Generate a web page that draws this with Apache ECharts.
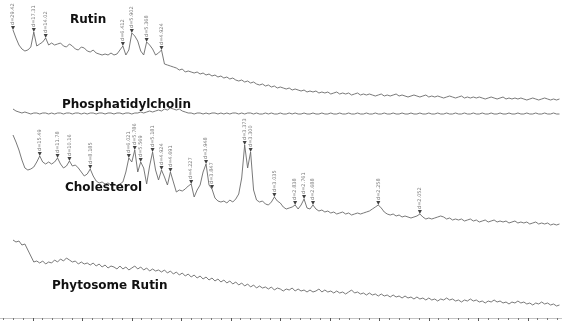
<!DOCTYPE html>
<html>
<head>
<meta charset="utf-8">
<script src="https://cdn.jsdelivr.net/npm/echarts@6/dist/echarts.min.js"></script>
<style>
html,body{margin:0;padding:0;background:#fff;}
#chart{width:562px;height:322px;}
</style>
</head>
<body>
<div id="chart"></div>
<script>
// 2θ scan steps (degrees), step 0.3°
const twoTheta = [];
for (let i = 0; i < 185; i++) twoTheta.push(+(3 + 0.3 * i).toFixed(1));

// Intensity traces (offset, plotted downward from top: larger = lower on page)
const rutin = [
  30,38,45,49,51,50,47,32,46,44,
  42,38,45,43,45,44,43,46,47,44,
  46,49,50,47,48,51,52,50,53,54,
  55,54,55,53,55,54,50,46,55,50,
  33,36,41,51,55,42,45,49,55,53,
  50,64,65,66,67,68,70,69,72,71,
  72,73,72,74,73,75,74,76,75,77,
  76,78,77,79,78,80,81,80,82,81,
  83,82,84,85,84,86,85,87,86,88,
  87,88,89,88,90,89,90,91,90,92,
  91,92,91,93,92,93,92,94,93,92,
  94,93,94,93,95,94,93,95,94,95,
  94,95,96,95,94,96,95,96,95,94,
  96,95,96,97,96,95,96,97,96,95,
  97,96,97,96,97,98,97,96,97,98,
  97,96,98,97,98,97,98,97,98,99,
  98,97,98,99,98,97,99,98,99,98,
  99,98,99,100,99,98,99,100,99,98,
  99,100,99,100,99
];
const phosphatidylcholin = [
  109,111,112,113,112,113,114,113,113,114,
  113,113,114,113,114,113,113,114,113,113,
  114,113,113,114,113,114,113,113,114,113,
  113,114,113,113,114,113,113,114,113,113,
  114,113,113,112,113,112,111,112,111,110,
  111,109,110,108,109,110,109,111,112,113,
  113,114,113,113,114,113,114,113,113,114,
  113,114,113,114,113,113,114,113,114,113,
  113,114,113,114,114,113,114,113,114,114,
  113,114,114,113,114,113,114,114,113,114,
  114,113,114,114,113,114,114,113,114,114,
  113,114,114,113,114,114,113,114,114,113,
  114,114,113,114,114,113,114,114,113,114,
  114,113,114,114,113,114,114,113,114,114,
  113,114,114,113,114,114,113,114,114,113,
  114,114,113,114,114,113,114,114,113,114,
  114,113,114,114,113,114,114,113,114,114,
  113,114,114,113,114,114,113,114,114,113,
  114,114,113,114,114
];
const cholesterol = [
  135,142,150,160,168,170,169,167,162,156,
  162,164,162,164,162,158,164,168,166,161,
  166,165,168,172,176,174,169,176,181,183,
  182,184,183,185,184,186,184,182,172,158,
  162,150,172,162,168,184,166,152,170,180,
  170,177,185,172,182,192,190,191,189,186,
  184,197,190,185,172,164,185,189,198,201,
  202,201,203,200,202,199,194,178,145,168,
  152,190,200,202,201,204,205,202,197,201,
  203,207,209,208,207,205,209,205,199,208,
  209,205,209,211,210,212,211,213,212,214,
  213,212,214,213,215,214,213,214,213,212,
  211,209,207,205,208,212,214,215,214,216,
  215,217,216,217,218,217,216,214,217,219,
  218,219,218,217,216,217,219,218,220,219,
  220,219,221,220,219,221,220,222,221,220,
  222,221,220,222,221,222,221,223,222,221,
  223,222,223,222,224,223,222,224,223,224,
  223,225,224,225,224
];
const phytosomeRutin = [
  240,242,241,245,244,250,256,262,261,263,
  261,264,262,263,260,262,259,261,258,260,
  262,261,264,262,264,263,265,263,266,264,
  267,265,268,266,267,269,266,269,267,270,
  268,266,269,267,270,268,271,269,271,270,
  272,270,273,271,274,272,275,273,276,274,
  277,275,278,276,279,277,280,278,281,279,
  282,280,283,281,284,282,285,283,286,284,
  287,285,288,286,288,287,289,287,290,288,
  289,291,289,290,288,291,289,291,290,292,
  290,292,291,289,292,290,292,291,293,291,
  293,292,294,292,290,293,292,294,293,295,
  293,295,294,296,294,296,295,297,295,297,
  296,298,296,298,297,299,297,299,298,300,
  298,300,299,301,299,300,298,300,299,301,
  300,302,300,301,299,301,300,302,301,303,
  301,302,300,302,301,303,302,304,302,303,
  301,303,302,304,303,305,303,304,302,304,
  303,305,304,306,305
];

// Peak markers: index into the scan, with d-spacing labels
const rutinPeaks = [0, 7, 11, 37, 40, 45, 50];
const rutinPeakLabels = ['d=29.42','d=17.31','d=14.02','d=6.412','d=5.902','d=5.368','d=4.924'];
const cholPeaks = [9, 15, 19, 26, 39, 41, 43, 47, 50, 53, 60, 65, 67, 78, 80, 88, 95, 98, 101, 123, 137];
const cholPeakLabels = ['d=15.49','d=11.78','d=10.16','d=8.185','d=6.021','d=5.786','d=5.569','d=5.181','d=4.924','d=4.691','d=4.227','d=3.948','d=3.847','d=3.373','d=3.300','d=3.035','d=2.838','d=2.761','d=2.688','d=2.258','d=2.052'];

const traceNames = ['Rutin', 'Phosphatidylcholin', 'Cholesterol', 'Phytosome Rutin'];

const chart = echarts.init(document.getElementById('chart'), null, {renderer: 'canvas'});

function lineSeries(name, ys) {
  return {
    name: name, type: 'line', symbol: 'none', animation: false,
    lineStyle: {color: '#6a6a6a', width: 0.9},
    data: ys.map((v, i) => [twoTheta[i], v]),
    z: 2
  };
}
function peakSeries(ys, idx, labels) {
  return {
    type: 'scatter', animation: false, z: 5,
    symbol: 'triangle', symbolRotate: 180, symbolSize: [4, 4], symbolOffset: [0, -2],
    itemStyle: {color: '#111'},
    label: {
      show: true, position: 'top', distance: 1, rotate: 90,
      align: 'left', verticalAlign: 'middle',
      fontSize: 5, color: '#555', fontFamily: 'DejaVu Sans',
      formatter: p => p.data.name
    },
    data: idx.map((p, k) => ({value: [twoTheta[p], ys[p]], name: labels[k]}))
  };
}

const titleStyle = {fontFamily: 'DejaVu Sans', fontWeight: 'bold', fontSize: 12, fill: '#111'};
const option = {
  backgroundColor: '#fff',
  animation: false,
  grid: {left: -16.7, width: 594, top: 0, bottom: 4, outerBoundsMode: 'none', containLabel: false},
  xAxis: {
    type: 'value', min: 0, max: 60, interval: 5,
    axisLine: {show: true, onZero: false, lineStyle: {color: '#c4c4c4', width: 1}},
    axisTick: {show: true, length: 3, lineStyle: {color: '#555', width: 1}},
    minorTick: {show: true, splitNumber: 5, length: 2, lineStyle: {color: '#777', width: 1}},
    axisLabel: {show: false},
    splitLine: {show: false}, minorSplitLine: {show: false}
  },
  yAxis: {type: 'value', inverse: true, min: 0, max: 318, show: false},
  series: [
    lineSeries(traceNames[0], rutin),
    lineSeries(traceNames[1], phosphatidylcholin),
    lineSeries(traceNames[2], cholesterol),
    lineSeries(traceNames[3], phytosomeRutin),
    peakSeries(rutin, rutinPeaks, rutinPeakLabels),
    peakSeries(cholesterol, cholPeaks, cholPeakLabels)
  ],
  graphic: [
    {type: 'text', left: 70, top: 14, z: 10, style: Object.assign({text: traceNames[0]}, titleStyle)},
    {type: 'text', left: 62, top: 99, z: 10, style: Object.assign({text: traceNames[1]}, titleStyle)},
    {type: 'text', left: 65, top: 182, z: 10, style: Object.assign({text: traceNames[2]}, titleStyle)},
    {type: 'text', left: 52, top: 280, z: 10, style: Object.assign({text: traceNames[3]}, titleStyle)}
  ]
};
chart.setOption(option);
</script>
</body>
</html>
